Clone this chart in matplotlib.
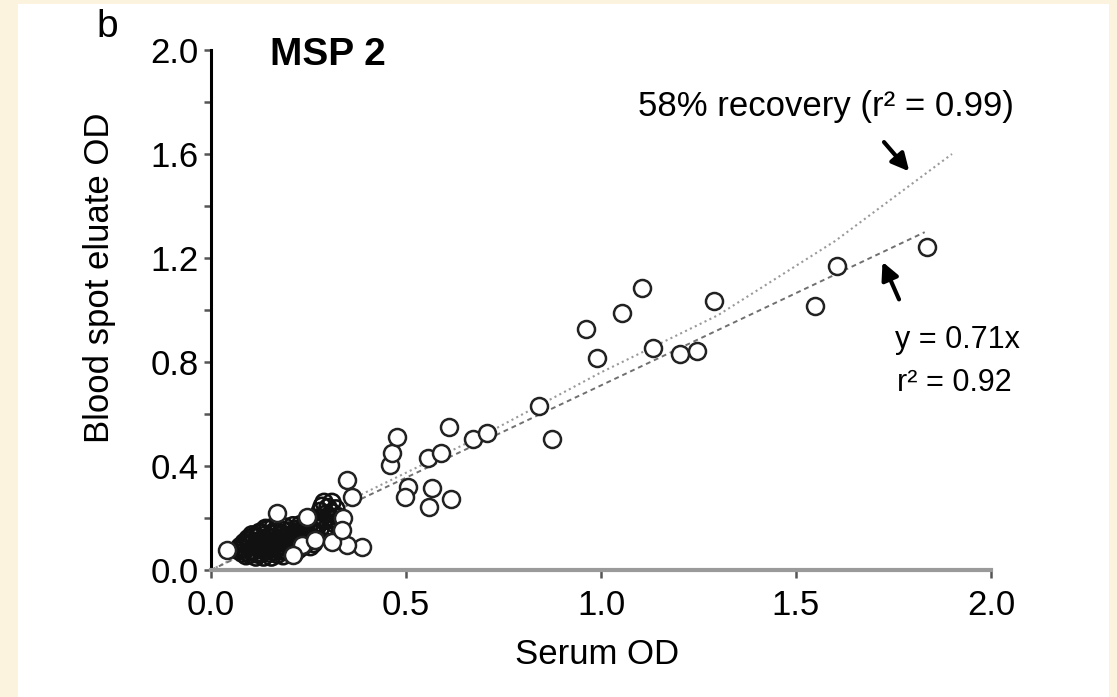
import matplotlib
matplotlib.use("Agg")
import matplotlib.pyplot as plt
from matplotlib.patches import Rectangle

plt.rcParams['font.family'] = ['Liberation Sans', 'DejaVu Sans']

# dense cluster of low OD samples (drawn as open rings, overlap gives the dark blob)
clust_x = [0.07, 0.075, 0.08, 0.085, 0.09, 0.095, 0.10, 0.10, 0.105, 0.11,
           0.11, 0.115, 0.12, 0.12, 0.125, 0.13, 0.13, 0.135, 0.14, 0.14,
           0.145, 0.15, 0.15, 0.155, 0.16, 0.16, 0.165, 0.17, 0.17, 0.175,
           0.175, 0.18, 0.185, 0.185, 0.19, 0.19, 0.195, 0.20, 0.20, 0.205,
           0.21, 0.21, 0.215, 0.22, 0.22, 0.225, 0.23, 0.23, 0.235, 0.24,
           0.245, 0.25, 0.255, 0.26, 0.265, 0.27, 0.275, 0.28, 0.28, 0.285,
           0.29, 0.29, 0.295, 0.30, 0.30, 0.305, 0.31, 0.31, 0.315, 0.32,
           0.325, 0.33, 0.09, 0.14, 0.16,
           0.078, 0.088, 0.098, 0.108, 0.118, 0.128, 0.138, 0.148, 0.158, 0.168,
           0.178, 0.188, 0.198, 0.208, 0.218, 0.228, 0.238, 0.248, 0.258, 0.268,
           0.093, 0.113, 0.133, 0.153, 0.173, 0.193, 0.213, 0.233, 0.253, 0.273,
           0.123, 0.143, 0.163, 0.183, 0.203, 0.223, 0.243, 0.263, 0.283, 0.303]
clust_y = [0.075, 0.09, 0.065, 0.105, 0.08, 0.12, 0.06, 0.095, 0.135, 0.075,
           0.11, 0.05, 0.09, 0.125, 0.145, 0.065, 0.105, 0.05, 0.085, 0.135,
           0.155, 0.065, 0.11, 0.05, 0.09, 0.145, 0.125, 0.06, 0.16, 0.075,
           0.105, 0.14, 0.055, 0.09, 0.12, 0.165, 0.07, 0.105, 0.15, 0.085,
           0.13, 0.17, 0.065, 0.10, 0.155, 0.08, 0.12, 0.175, 0.09, 0.14,
           0.105, 0.165, 0.09, 0.125, 0.15, 0.18, 0.20, 0.225, 0.16, 0.245,
           0.19, 0.26, 0.215, 0.17, 0.24, 0.195, 0.26, 0.22, 0.18, 0.235,
           0.205, 0.17, 0.055, 0.16, 0.165,
           0.082, 0.098, 0.112, 0.128, 0.062, 0.142, 0.072, 0.128, 0.102, 0.142,
           0.132, 0.072, 0.132, 0.112, 0.142, 0.102, 0.112, 0.132, 0.152, 0.142,
           0.068, 0.095, 0.078, 0.085, 0.092, 0.088, 0.095, 0.155, 0.112, 0.17,
           0.112, 0.115, 0.072, 0.152, 0.12, 0.125, 0.162, 0.102, 0.2, 0.205]

# remaining samples
serum_od = [0.041, 0.169, 0.246, 0.349, 0.362, 0.387, 0.349, 0.338, 0.233, 0.21,
            0.267, 0.31, 0.336,
            0.459, 0.464, 0.477, 0.556, 0.59, 0.61, 0.672, 0.708, 0.505, 0.497,
            0.567, 0.559, 0.615, 0.841, 0.874, 0.962, 0.99, 1.054, 1.105, 1.133,
            1.203, 1.246, 1.29, 1.549, 1.605, 1.836]
eluate_od = [0.077, 0.219, 0.204, 0.346, 0.281, 0.088, 0.096, 0.2, 0.096, 0.058,
             0.115, 0.108, 0.154,
             0.404, 0.45, 0.512, 0.431, 0.45, 0.55, 0.504, 0.527, 0.319, 0.281,
             0.315, 0.242, 0.273, 0.631, 0.504, 0.927, 0.815, 0.988, 1.085, 0.854,
             0.831, 0.842, 1.035, 1.015, 1.169, 1.242]

# recovery curve and linear fit y = 0.71x
recovery_x = [0.0, 0.33, 0.7, 1.0, 1.3, 1.6, 1.9]
recovery_y = [0.0, 0.25, 0.52, 0.76, 0.98, 1.265, 1.6]
fit_slope = 0.71
fit_x = [0.0, 1.83]

fig = plt.figure(figsize=(11.17, 6.97), dpi=100)
fig.patch.set_facecolor('#fcf3df')
fig.patches.append(Rectangle((18 / 1117, 0), (1109 - 18) / 1117, 693 / 697,
                             transform=fig.transFigure, facecolor='white',
                             edgecolor='none', zorder=-10))

ax = fig.add_axes([211 / 1117, 127 / 697, 780 / 1117, 520 / 697])
ax.set_facecolor('none')

ax.plot(recovery_x, recovery_y, color='#9a9a9a', lw=1.5,
        linestyle=(0, (1, 1.6)), zorder=2)
ax.plot(fit_x, [fit_slope * v for v in fit_x], color='#707070', lw=1.4,
        linestyle=(0, (2.5, 2)), zorder=2)

ax.scatter(clust_x, clust_y, s=150, facecolors='none', edgecolors='#111111',
           linewidths=1.9, zorder=3, clip_on=False)
ax.scatter(serum_od, eluate_od, s=150, facecolors='white', edgecolors='#222222',
           linewidths=1.8, zorder=4, clip_on=False)

ax.set_xlim(0, 2.0)
ax.set_ylim(0, 2.0)
ax.set_xticks([0.0, 0.5, 1.0, 1.5, 2.0])
ax.set_xticklabels(['0.0', '0.5', '1.0', '1.5', '2.0'])
ax.set_yticks([0.0, 0.4, 0.8, 1.2, 1.6, 2.0])
ax.set_yticklabels(['0.0', '0.4', '0.8', '1.2', '1.6', '2.0'])
ax.set_yticks([0.2, 0.6, 1.0, 1.4, 1.8], minor=True)

ax.spines['top'].set_visible(False)
ax.spines['right'].set_visible(False)
ax.spines['left'].set_linewidth(2.2)
ax.spines['left'].set_color('black')
ax.spines['bottom'].set_linewidth(3)
ax.spines['bottom'].set_color('#9a9a9a')

ax.tick_params(axis='y', which='both', direction='out', length=5, width=1.8,
               color='#555555', labelsize=25, pad=4)
ax.tick_params(axis='x', which='both', direction='out', length=6, width=1.8,
               color='#555555', labelsize=25, pad=8)

ax.text(0.151, 1.981, 'MSP 2', fontsize=28, fontweight='bold',
        ha='left', va='center')
ax.text(1.095, 1.781, '58% recovery (r² = 0.99)', fontsize=25,
        ha='left', va='center')
ax.text(1.754, 0.885, 'y = 0.71x', fontsize=22, ha='left', va='center')
ax.text(1.759, 0.719, 'r² = 0.92', fontsize=22, ha='left', va='center')

ax.annotate('', xy=(1.795, 1.525), xytext=(1.721, 1.654),
            arrowprops=dict(arrowstyle='-|>', color='black', lw=3,
                            mutation_scale=26))
ax.annotate('', xy=(1.719, 1.195), xytext=(1.767, 1.031),
            arrowprops=dict(arrowstyle='-|>', color='black', lw=3,
                            mutation_scale=26))

fig.text(0.0868, 0.961, 'b', fontsize=28, ha='left', va='center')
fig.text(100 / 1117, 1 - 278 / 697, 'Blood spot eluate OD', fontsize=25,
         rotation=90, ha='center', va='center')
fig.text(597 / 1117, 1 - 655 / 697, 'Serum OD', fontsize=25,
         ha='center', va='center')

fig.savefig('out.png', dpi=100, facecolor=fig.get_facecolor())
